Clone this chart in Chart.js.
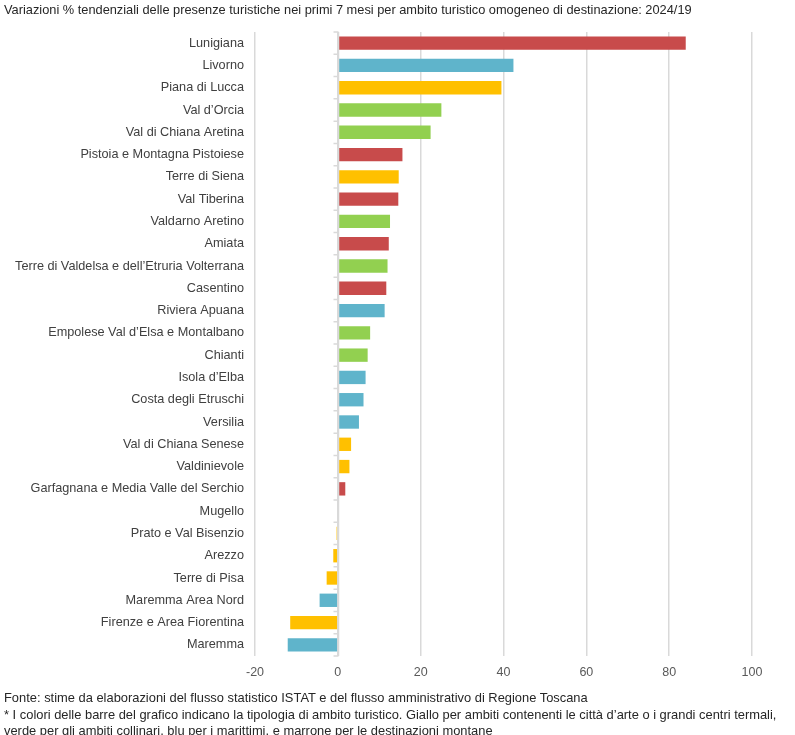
<!DOCTYPE html>
<html>
<head>
<meta charset="utf-8">
<script src="https://cdn.jsdelivr.net/npm/chart.js@4"></script>
<style>
  html, body { margin: 0; padding: 0; background: #fff; }
  body { width: 795px; height: 735px; position: relative; overflow: hidden; font-family: "Liberation Sans", Arial, sans-serif; color: #262626; }
  .title { position: absolute; left: 4px; top: 2px; font-size: 12.8px; white-space: nowrap; }
  .chart-box { position: absolute; left: 0; top: 0; width: 795px; height: 693px; }
  .note { position: absolute; left: 4px; top: 690px; font-size: 12.9px; line-height: 16.5px; white-space: nowrap; }
</style>
</head>
<body>
<div class="chart-box"><canvas id="chart"></canvas></div>
<div class="title">Variazioni % tendenziali delle presenze turistiche nei primi 7 mesi per ambito turistico omogeneo di destinazione: 2024/19</div>
<div class="note">
  Fonte: stime da elaborazioni del flusso statistico ISTAT e del flusso amministrativo di Regione Toscana<br>
  * I colori delle barre del grafico indicano la tipologia di ambito turistico. Giallo per ambiti contenenti le città d’arte o i grandi centri termali,<br>
  verde per gli ambiti collinari, blu per i marittimi, e marrone per le destinazioni montane
</div>
<script>
const areas = [
  'Lunigiana', 'Livorno', 'Piana di Lucca', 'Val d’Orcia', 'Val di Chiana Aretina',
  'Pistoia e Montagna Pistoiese', 'Terre di Siena', 'Val Tiberina', 'Valdarno Aretino', 'Amiata',
  'Terre di Valdelsa e dell’Etruria Volterrana', 'Casentino', 'Riviera Apuana',
  'Empolese Val d’Elsa e Montalbano', 'Chianti', 'Isola d’Elba', 'Costa degli Etruschi', 'Versilia',
  'Val di Chiana Senese', 'Valdinievole', 'Garfagnana e Media Valle del Serchio', 'Mugello',
  'Prato e Val Bisenzio', 'Arezzo', 'Terre di Pisa', 'Maremma Area Nord',
  'Firenze e Area Fiorentina', 'Maremma'
];
const variations = [
  84.0, 42.4, 39.5, 25.0, 22.4,
  15.6, 14.7, 14.6, 12.6, 12.3,
  12.0, 11.7, 11.3,
  7.8, 7.2, 6.7, 6.2, 5.1,
  3.2, 2.8, 1.8, 0,
  -0.3, -1.1, -2.7, -4.4,
  -11.5, -12.1
];
const kinds = [
  'montano', 'marittimo', 'arte', 'collinare', 'collinare',
  'montano', 'arte', 'montano', 'collinare', 'montano',
  'collinare', 'montano', 'marittimo',
  'collinare', 'collinare', 'marittimo', 'marittimo', 'marittimo',
  'arte', 'arte', 'montano', 'montano',
  'arte', 'arte', 'arte', 'marittimo',
  'arte', 'marittimo'
];
const xTicks = [-20, 0, 20, 40, 60, 80, 100];

const kindColors = {
  arte: '#ffc000',
  collinare: '#92d050',
  marittimo: '#5fb4cb',
  montano: '#c84b4b'
};

// asse verticale sullo zero con le tacche tra le categorie
const zeroAxis = {
  id: 'zeroAxis',
  afterDatasetsDraw(chart) {
    const { ctx, scales: { x, y } } = chart;
    const x0 = Math.round(x.getPixelForValue(0)) + 0.5;
    ctx.save();
    ctx.strokeStyle = '#d9d9d9';
    ctx.lineWidth = 1.5;
    ctx.beginPath();
    ctx.moveTo(x0, y.top);
    ctx.lineTo(x0, y.bottom);
    for (let i = 0; i <= areas.length; i++) {
      const py = y.getPixelForValue(i - 0.5);
      ctx.moveTo(x0 - 5, py);
      ctx.lineTo(x0, py);
    }
    ctx.stroke();
    ctx.restore();
  }
};

new Chart(document.getElementById('chart'), {
  type: 'bar',
  data: {
    labels: areas,
    datasets: [{
      data: variations,
      backgroundColor: kinds.map((k) => kindColors[k]),
      barPercentage: 0.6,
      categoryPercentage: 1
    }]
  },
  options: {
    indexAxis: 'y',
    responsive: true,
    maintainAspectRatio: false,
    animation: false,
    layout: { padding: { top: 32, right: 43, bottom: 0, left: 0 } },
    plugins: {
      legend: { display: false },
      tooltip: { enabled: false }
    },
    scales: {
      x: {
        min: -20,
        max: 100,
        afterBuildTicks: (scale) => { scale.ticks = xTicks.map((v) => ({ value: v })); },
        afterFit: (scale) => { scale.height = 37; },
        grid: { color: '#d9d9d9', lineWidth: 1.5, drawTicks: false },
        border: { display: false },
        ticks: { color: '#595959', font: { family: 'Liberation Sans', size: 12.5 }, padding: 9 }
      },
      y: {
        afterFit: (scale) => { scale.width = 255; },
        grid: { display: false },
        border: { display: false },
        ticks: { color: '#404040', font: { family: 'Liberation Sans', size: 12.7 }, padding: 3, autoSkip: false }
      }
    }
  },
  plugins: [zeroAxis]
});
</script>
</body>
</html>
